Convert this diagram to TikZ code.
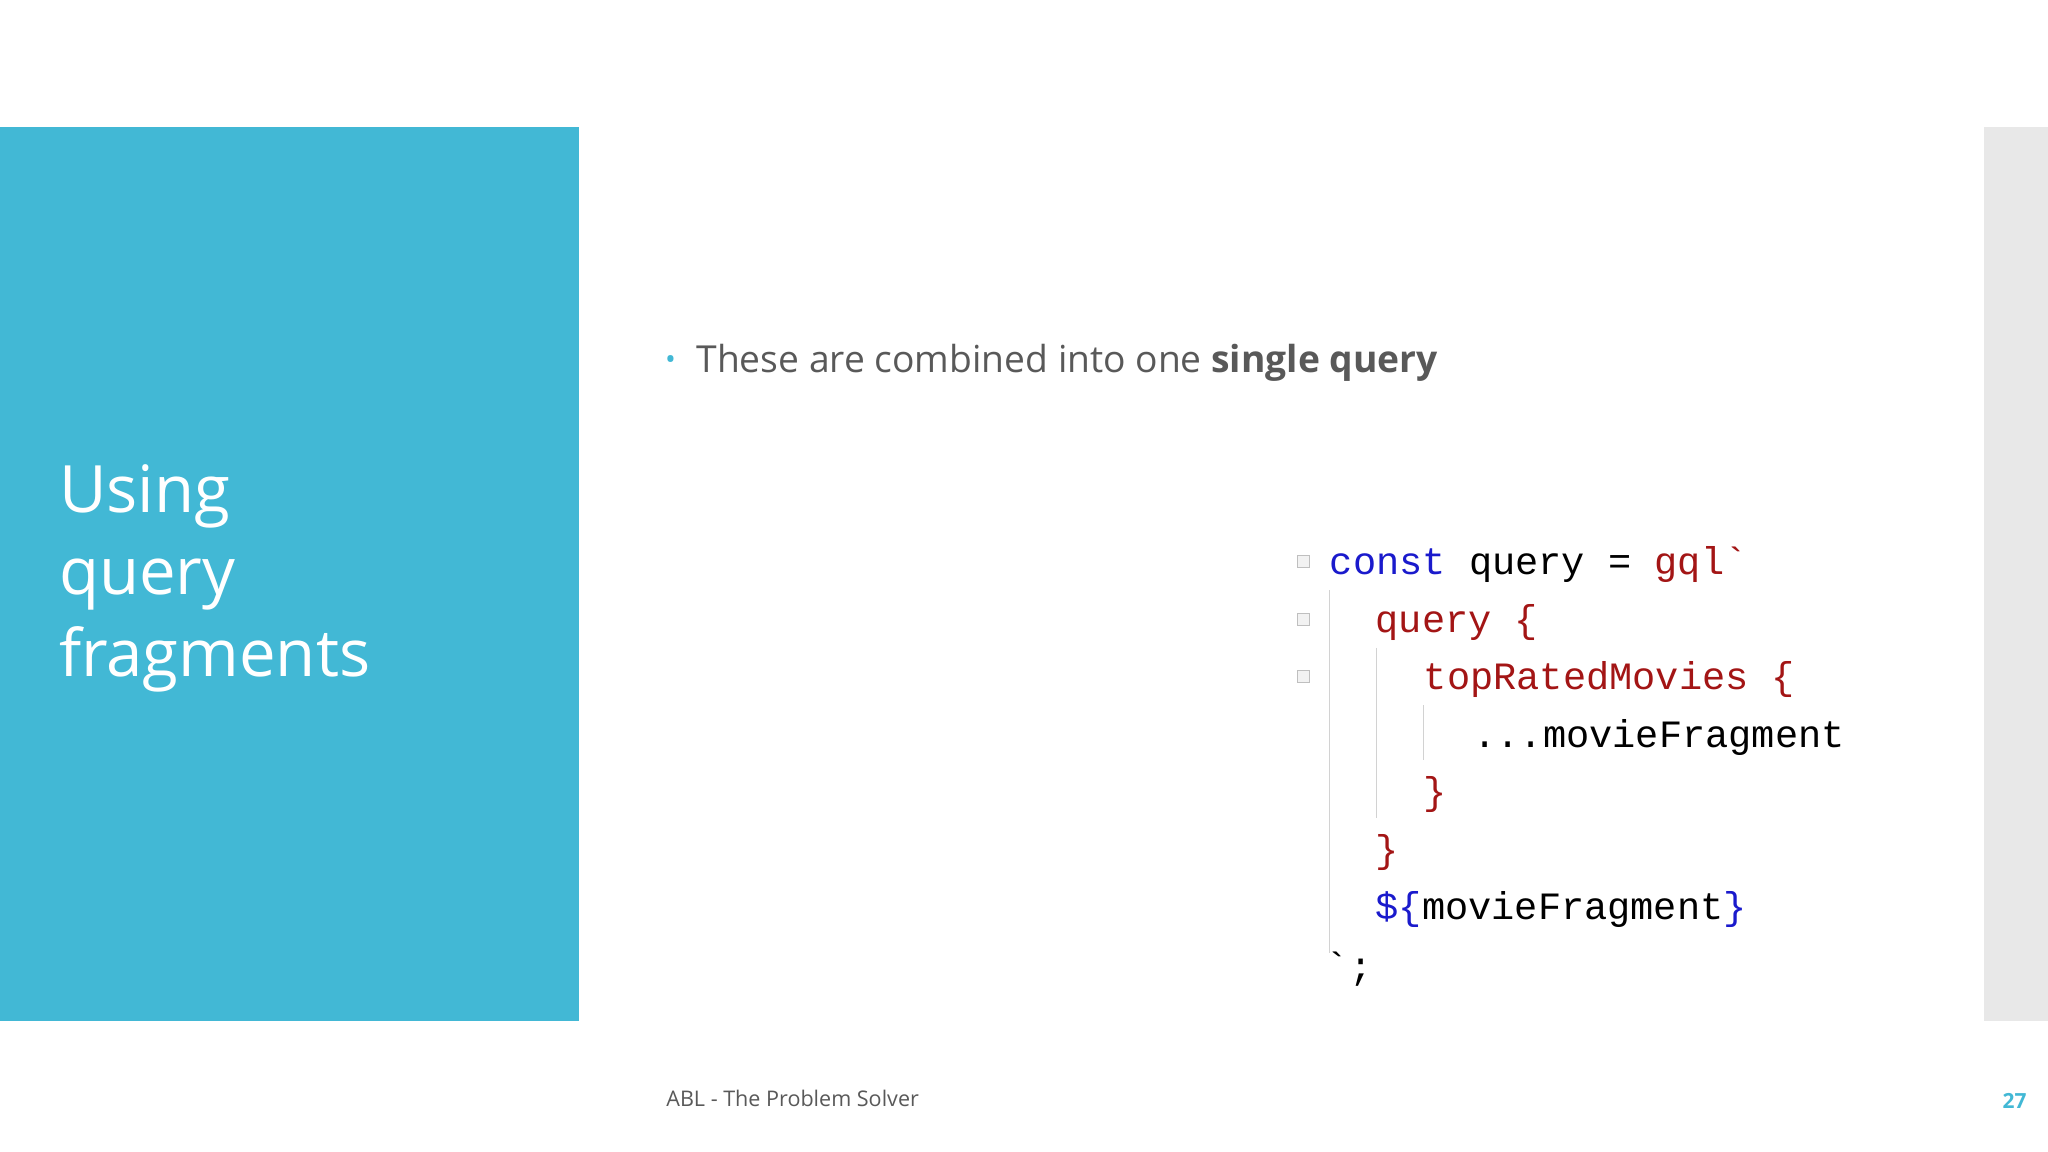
\documentclass[tikz,border=0pt]{standalone}
\usepackage{fontspec}
\setmainfont{Open Sans}
\newfontfamily\codefont{Liberation Mono}
\begin{document}
\begin{tikzpicture}[x=1pt,y=-1pt,
  code/.style={anchor=base west,inner sep=0,font=\codefont\fontsize{29.6}{30}\selectfont},
  fold/.style={draw=gray!50,fill=gray!10,minimum size=9pt,inner sep=0,line width=0.6pt},
  guide/.style={draw=gray!35,line width=0.8pt}]
\definecolor{teal}{HTML}{42B8D5}
\definecolor{kw}{HTML}{1A1ACC}
\definecolor{str}{HTML}{A31515}
\definecolor{txt}{HTML}{595959}
\useasboundingbox (0,0) rectangle (1568,882);
\fill[white] (0,0) rectangle (1568,882);
\fill[teal] (0,97) rectangle (443,782);
\fill[gray!18] (1519,97) rectangle (1568,782);
\node[anchor=base west,inner sep=0,text=white,font=\fontsize{50}{63}\selectfont,align=left] (title) at (45,518) {Using\\query\\fragments};
\node[anchor=base west,inner sep=0,text=teal,font=\fontsize{22}{22}\selectfont] (bul) at (509,283) {•};
\node[anchor=base west,inner sep=0,text=txt,font=\fontsize{28.5}{30}\selectfont] (b1) at (533,285) {These are combined into one \textbf{single query}};
% code
\node[code] (l1) at (1018,440) {\textcolor{kw}{const} query = \textcolor{str}{gql`}};
\node[code,text=str] (l2) at (1053,484) {query \{};
\node[code,text=str] (l3) at (1090,528) {topRatedMovies \{};
\node[code] (l4) at (1128,572) {...movieFragment};
\node[code,text=str] (l5) at (1090,616) {\}};
\node[code,text=str] (l6) at (1053,660) {\}};
\node[code] (l7) at (1053,704) {\textcolor{kw}{\$\{}movieFragment\textcolor{kw}{\}}};
\node[code] (l8) at (1015,750) {`;};
\node[fold] (f1) at (998,430) {};
\node[fold] (f2) at (998,474) {};
\node[fold] (f3) at (998,518) {};
\draw[guide] (1018,452) -- (1018,730);
\draw[guide] (1054,496) -- (1054,626);
\draw[guide] (1090,540) -- (1090,582);
\node[anchor=base west,inner sep=0,text=txt,font=\fontsize{16.5}{17}\selectfont] (foot) at (510,847) {ABL - The Problem Solver};
\node[anchor=base west,inner sep=0,text=teal,font=\bfseries\fontsize{16}{17}\selectfont] (pg) at (1533,849) {27};
\end{tikzpicture}
\end{document}
